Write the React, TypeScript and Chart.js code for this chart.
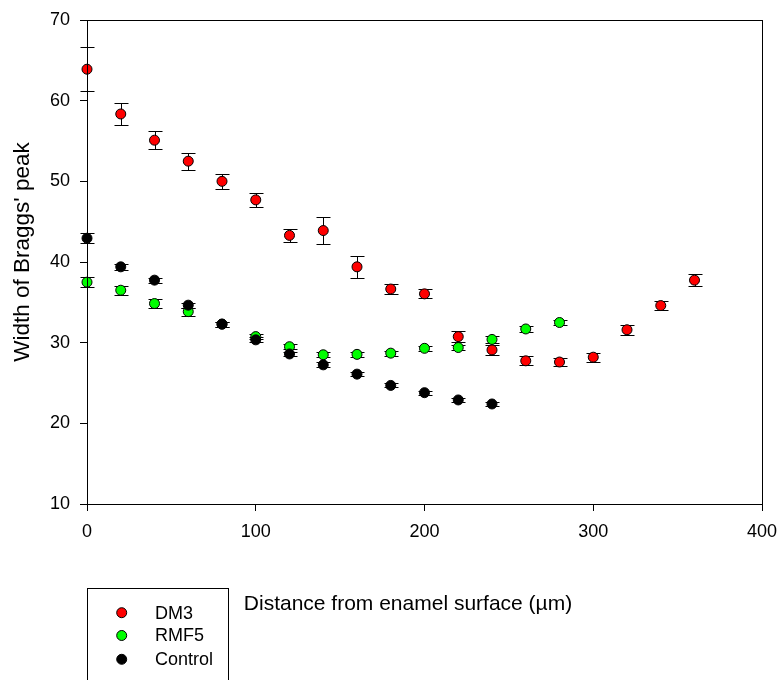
import { useEffect, useRef } from 'react';
import { Chart, registerables } from 'chart.js';

Chart.register(...registerables);

const seriesNames = ['DM3', 'RMF5', 'Control'];
const seriesColors = ['#ff0000', '#00ff00', '#000000'];

const distDM3 = [0, 20, 40, 60, 80, 100, 120, 140, 160, 180, 200, 220, 240, 260, 280, 300, 320, 340, 360];
const widthDM3 = [63.9, 58.35, 55.1, 52.5, 50.0, 47.7, 43.3, 43.9, 39.4, 36.65, 36.05, 30.75, 29.1, 27.75, 27.6, 28.2, 31.6, 34.6, 37.75];
const errDM3 = [2.7, 1.4, 1.1, 1.05, 0.95, 0.9, 0.8, 1.7, 1.35, 0.6, 0.55, 0.65, 0.6, 0.55, 0.55, 0.55, 0.6, 0.6, 0.75];

const distRMF5 = [0, 20, 40, 60, 80, 100, 120, 140, 160, 180, 200, 220, 240, 260, 280];
const widthRMF5 = [37.5, 36.5, 34.85, 33.85, 32.3, 30.75, 29.5, 28.5, 28.55, 28.7, 29.3, 29.4, 30.4, 31.7, 32.5];
const errRMF5 = [0.6, 0.55, 0.55, 0.5, 0.3, 0.3, 0.3, 0.3, 0.3, 0.3, 0.3, 0.35, 0.4, 0.35, 0.3];

const distControl = [0, 20, 40, 60, 80, 100, 120, 140, 160, 180, 200, 220, 240];
const widthControl = [42.95, 39.4, 37.75, 34.65, 32.3, 30.35, 28.6, 27.25, 26.1, 24.7, 23.8, 22.9, 22.4];
const errControl = [0.65, 0.4, 0.3, 0.3, 0.3, 0.3, 0.3, 0.3, 0.25, 0.25, 0.25, 0.25, 0.2];

const xTitle = 'Distance from enamel surface (µm)';
const yTitle = "Width of Braggs' peak";

const allDist = [distDM3, distRMF5, distControl];
const allWidth = [widthDM3, widthRMF5, widthControl];
const allErr = [errDM3, errRMF5, errControl];

const FONT = '"Liberation Sans", Arial, sans-serif';

const errorBarPlugin = {
  id: 'errorBars',
  beforeDatasetsDraw(chart: any) {
    const ctx = chart.ctx;
    const xs = chart.scales.x;
    const ys = chart.scales.y;
    ctx.save();
    ctx.strokeStyle = '#000';
    ctx.lineWidth = 1;
    for (let s = 0; s < allDist.length; s++) {
      for (let j = 0; j < allDist[s].length; j++) {
        const px = Math.round(xs.getPixelForValue(allDist[s][j])) + 0.5;
        const yt = Math.round(ys.getPixelForValue(allWidth[s][j] + allErr[s][j])) + 0.5;
        const yb = Math.round(ys.getPixelForValue(allWidth[s][j] - allErr[s][j])) + 0.5;
        ctx.beginPath();
        ctx.moveTo(px, yt);
        ctx.lineTo(px, yb);
        ctx.moveTo(px - 7, yt);
        ctx.lineTo(px + 7, yt);
        ctx.moveTo(px - 7, yb);
        ctx.lineTo(px + 7, yb);
        ctx.stroke();
      }
    }
    ctx.restore();
  },
};

const framePlugin = {
  id: 'frameAndLegend',
  afterDraw(chart: any) {
    const ctx = chart.ctx;
    const a = chart.chartArea;
    ctx.save();
    ctx.strokeStyle = '#000';
    ctx.lineWidth = 1;
    ctx.strokeRect(Math.round(a.left) + 0.5, Math.round(a.top) + 0.5, Math.round(a.right - a.left), Math.round(a.bottom - a.top));
    // axis titles
    ctx.fillStyle = '#000';
    ctx.textAlign = 'center';
    ctx.textBaseline = 'middle';
    ctx.font = '21px ' + FONT;
    ctx.fillText(xTitle, 408, 604);
    ctx.save();
    ctx.translate(23, 252);
    ctx.rotate(-Math.PI / 2);
    ctx.font = '22.5px ' + FONT;
    ctx.fillText(yTitle, 0, 0);
    ctx.restore();
    // legend box
    ctx.strokeRect(87.5, 588.5, 141, 120);
    ctx.font = '18px ' + FONT;
    ctx.textBaseline = 'middle';
    ctx.textAlign = 'left';
    const rows = [612.7, 635.5, 659.3];
    for (let i = 0; i < seriesNames.length; i++) {
      ctx.beginPath();
      ctx.arc(121.7, rows[i], 5, 0, Math.PI * 2);
      ctx.fillStyle = seriesColors[i];
      ctx.fill();
      ctx.strokeStyle = '#000';
      ctx.stroke();
      ctx.fillStyle = '#000';
      ctx.fillText(seriesNames[i], 155, rows[i] + 1);
    }
    ctx.restore();
  },
};

export default function App() {
  const ref = useRef<HTMLCanvasElement | null>(null);
  useEffect(() => {
    if (!ref.current) return;
    const orders = [1, 2, 0];
    const chart = new Chart(ref.current, {
      type: 'scatter',
      data: {
        datasets: seriesNames.map((name, i) => ({
          label: name,
          data: allDist[i].map((d, j) => ({ x: d, y: allWidth[i][j] })),
          backgroundColor: seriesColors[i],
          borderColor: '#000',
          borderWidth: 1,
          pointRadius: 5,
          pointHoverRadius: 5,
          order: orders[i],
          clip: false,
        })),
      },
      options: {
        responsive: false,
        animation: false,
        events: [],
        layout: { padding: { left: 0, top: 20, right: 17, bottom: 0 } },
        plugins: {
          legend: { display: false },
          tooltip: { enabled: false },
          title: { display: false },
        },
        scales: {
          x: {
            type: 'linear',
            min: 0,
            max: 400,
            ticks: { stepSize: 100, color: '#000', font: { family: FONT, size: 18 }, padding: 10, maxRotation: 0 },
            grid: { drawOnChartArea: false, drawTicks: true, tickLength: 7, color: '#000' },
            border: { display: true, color: '#000' },
            title: { display: false },
            afterFit: (scale: any) => {
              scale.height = 176;
              scale.paddingRight = 0;
              scale.paddingLeft = 0;
            },
          },
          y: {
            type: 'linear',
            min: 10,
            max: 70,
            ticks: { stepSize: 10, color: '#000', font: { family: FONT, size: 18 }, padding: 10 },
            grid: { drawOnChartArea: false, drawTicks: true, tickLength: 7, color: '#000' },
            border: { display: true, color: '#000' },
            title: { display: false },
            afterFit: (scale: any) => {
              scale.width = 87;
              scale.paddingTop = 0;
              scale.paddingBottom = 0;
            },
          },
        },
      },
      plugins: [errorBarPlugin, framePlugin],
    });
    return () => chart.destroy();
  }, []);
  return (
    <div style={{ position: 'absolute', left: 0, top: 0, width: 779, height: 680, background: '#fff' }}>
      <canvas ref={ref} width={779} height={680} style={{ width: 779, height: 680, display: 'block' }} />
    </div>
  );
}
